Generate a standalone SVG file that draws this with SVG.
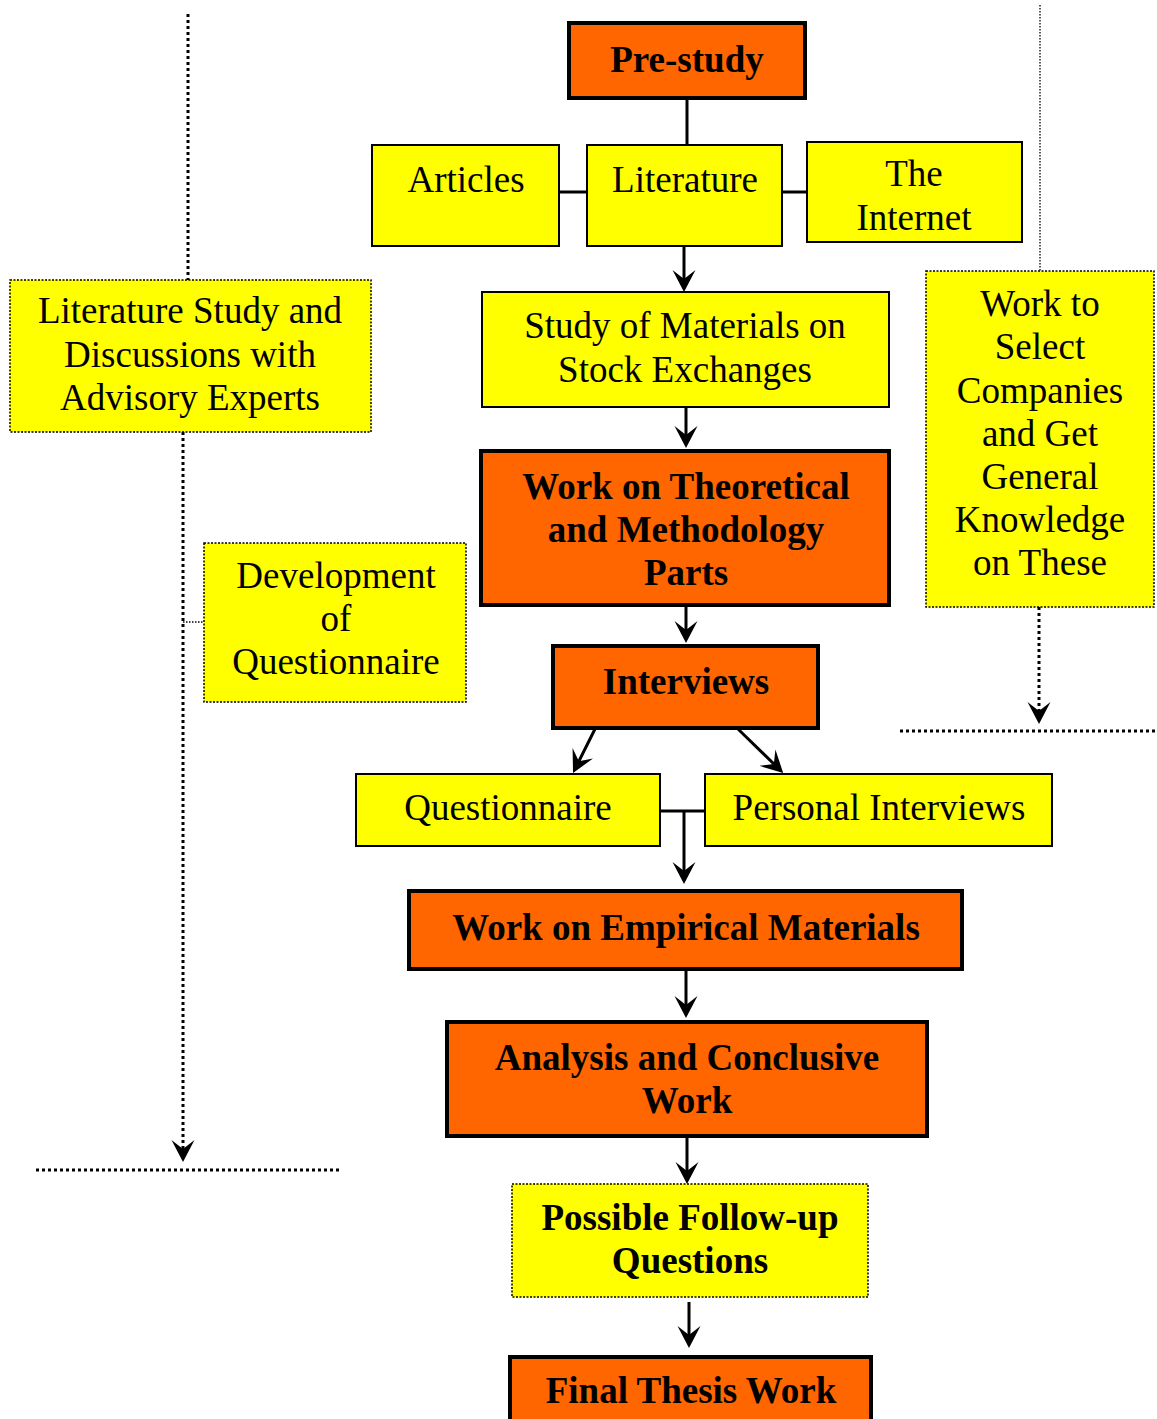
<svg xmlns="http://www.w3.org/2000/svg" width="1157" height="1419" viewBox="0 0 1157 1419">
<style>
.bg{fill:#ffffff}
.main{fill:#FF6600;stroke:#000;stroke-width:4}
.sub{fill:#FFFF00;stroke:#000;stroke-width:2}
.dot{fill:#FFFF00;stroke:#000;stroke-width:1.5;stroke-dasharray:2 1.5}
text{font-family:"Liberation Serif","Times New Roman",serif;font-size:37px;fill:#000;text-anchor:middle}
.b{font-weight:bold}
.ln{stroke:#000;stroke-width:3;fill:none}
.dl{stroke:#000;stroke-width:3;fill:none;stroke-dasharray:3 3}
.tl{stroke:#000;stroke-width:1.3;fill:none;stroke-dasharray:1.5 1.5}
</style>
<defs>
<marker id="ah" markerUnits="userSpaceOnUse" markerWidth="24" markerHeight="24" viewBox="0 0 24 24" refX="12" refY="12" orient="auto">
<path d="M22,12 L0,0.5 L9,12 L0,23.5 Z" fill="#000"/>
</marker>
</defs>
<rect class="bg" x="0" y="0" width="1157" height="1419"/>

<g id="connectors">
<line class="ln" x1="687" y1="99" x2="687" y2="145"/>
<line class="ln" x1="559" y1="192" x2="586" y2="192"/>
<line class="ln" x1="782" y1="192" x2="806" y2="192"/>
<line class="ln" x1="684" y1="246" x2="684" y2="282" marker-end="url(#ah)"/>
<line class="ln" x1="686" y1="407" x2="686" y2="438" marker-end="url(#ah)"/>
<line class="ln" x1="686" y1="605" x2="686" y2="633" marker-end="url(#ah)"/>
<line class="ln" x1="595" y1="729" x2="577.5" y2="764" marker-end="url(#ah)"/>
<line class="ln" x1="738" y1="729" x2="776" y2="766" marker-end="url(#ah)"/>
<line class="ln" x1="660" y1="811" x2="705" y2="811"/>
<line class="ln" x1="684" y1="811" x2="684" y2="874" marker-end="url(#ah)"/>
<line class="ln" x1="686" y1="969" x2="686" y2="1008" marker-end="url(#ah)"/>
<line class="ln" x1="687" y1="1137" x2="687" y2="1174" marker-end="url(#ah)"/>
<line class="ln" x1="689" y1="1302" x2="689" y2="1338" marker-end="url(#ah)"/>
<line class="dl" x1="188" y1="14" x2="188" y2="280"/>
<line class="dl" x1="183" y1="432" x2="183" y2="1152" marker-end="url(#ah)"/>
<line class="dl" x1="36" y1="1170" x2="341" y2="1170"/>
<line class="tl" x1="183" y1="622" x2="204" y2="622"/>
<line class="tl" x1="1040" y1="5" x2="1040" y2="271"/>
<line class="dl" x1="1039" y1="607" x2="1039" y2="714" marker-end="url(#ah)"/>
<line class="dl" x1="900" y1="731" x2="1157" y2="731"/>
</g>

<g id="prestudy">
<rect class="main" x="569" y="23" width="236" height="75"/>
<text class="b" x="687" y="72">Pre-study</text>
</g>
<g id="articles">
<rect class="sub" x="372" y="145" width="187" height="101"/>
<text x="466" y="192">Articles</text>
</g>
<g id="literature">
<rect class="sub" x="587" y="145" width="195" height="101"/>
<text x="685" y="192">Literature</text>
</g>
<g id="internet">
<rect class="sub" x="807" y="142" width="215" height="100"/>
<text x="914" y="186">The</text>
<text x="914" y="230">Internet</text>
</g>
<g id="litstudy">
<rect class="dot" x="10" y="280" width="361" height="152"/>
<text x="190" y="323">Literature Study and</text>
<text x="190" y="367">Discussions with</text>
<text x="190" y="410">Advisory Experts</text>
</g>
<g id="study">
<rect class="sub" x="482" y="292" width="407" height="115"/>
<text x="685" y="338">Study of Materials on</text>
<text x="685" y="382">Stock Exchanges</text>
</g>
<g id="selectcompanies">
<rect class="dot" x="926" y="271" width="228" height="336"/>
<text x="1040" y="316">Work to</text>
<text x="1040" y="359">Select</text>
<text x="1040" y="403">Companies</text>
<text x="1040" y="446">and Get</text>
<text x="1040" y="489">General</text>
<text x="1040" y="532">Knowledge</text>
<text x="1040" y="575">on These</text>
</g>
<g id="theoretical">
<rect class="main" x="481" y="451" width="408" height="154"/>
<text class="b" x="686" y="499">Work on Theoretical</text>
<text class="b" x="686" y="542">and Methodology</text>
<text class="b" x="686" y="585">Parts</text>
</g>
<g id="development">
<rect class="dot" x="204" y="543" width="262" height="159"/>
<text x="336" y="588">Development</text>
<text x="336" y="631">of</text>
<text x="336" y="674">Questionnaire</text>
</g>
<g id="interviews">
<rect class="main" x="553" y="646" width="265" height="82"/>
<text class="b" x="686" y="694">Interviews</text>
</g>
<g id="questionnaire">
<rect class="sub" x="356" y="774" width="304" height="72"/>
<text x="508" y="820">Questionnaire</text>
</g>
<g id="personal">
<rect class="sub" x="705" y="774" width="347" height="72"/>
<text x="879" y="820">Personal Interviews</text>
</g>
<g id="empirical">
<rect class="main" x="409" y="891" width="553" height="78"/>
<text class="b" x="686" y="940">Work on Empirical Materials</text>
</g>
<g id="analysis">
<rect class="main" x="447" y="1022" width="480" height="114"/>
<text class="b" x="687" y="1070">Analysis and Conclusive</text>
<text class="b" x="687" y="1113">Work</text>
</g>
<g id="followup">
<rect class="dot" x="512" y="1184" width="356" height="113"/>
<text class="b" x="690" y="1230">Possible Follow-up</text>
<text class="b" x="690" y="1273">Questions</text>
</g>
<g id="final">
<rect class="main" x="510" y="1357" width="361" height="70"/>
<text class="b" x="691" y="1403">Final Thesis Work</text>
</g>
</svg>
